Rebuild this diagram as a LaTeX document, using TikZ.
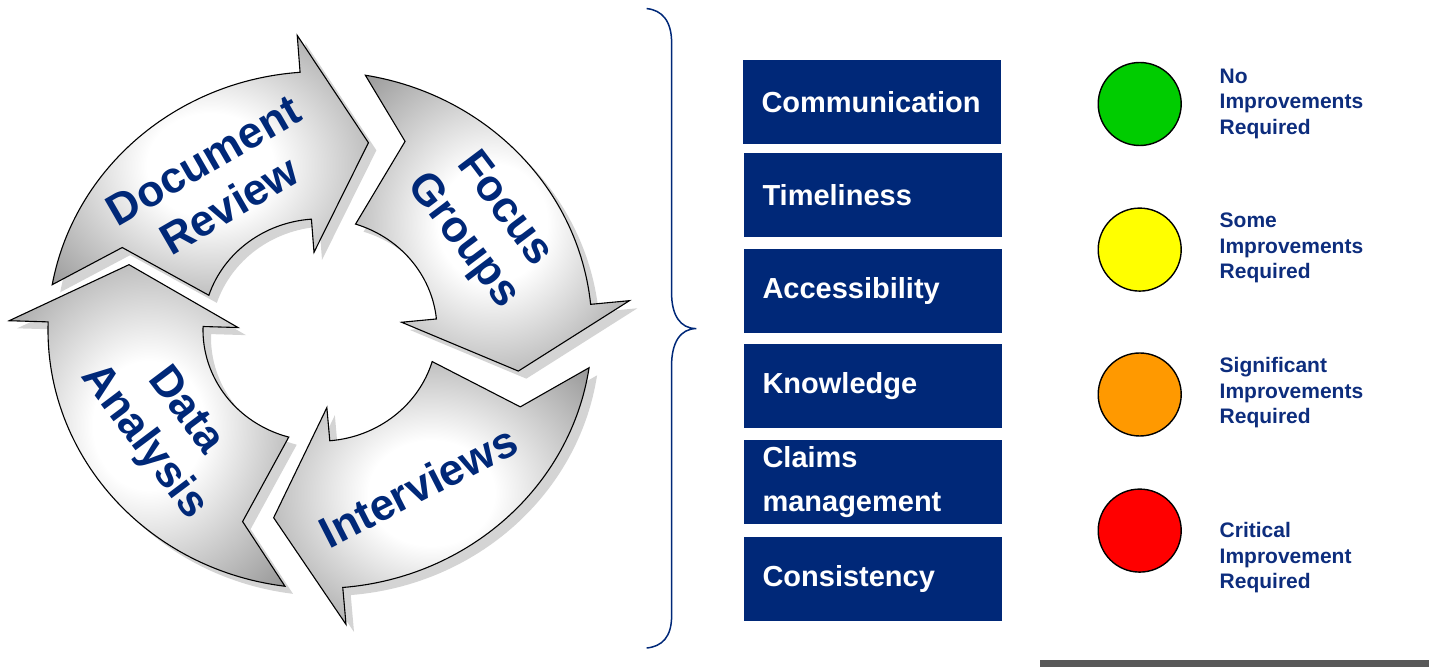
\documentclass[tikz,border=0pt]{standalone}
\usepackage{fontspec}
\setmainfont{Liberation Sans}
\definecolor{reviewnavy}{RGB}{0,40,120}
\definecolor{legendnavy}{RGB}{13,45,125}
\definecolor{bargray}{RGB}{89,89,89}
\definecolor{okgreen}{RGB}{0,204,0}
\definecolor{someyellow}{RGB}{255,255,0}
\definecolor{sigorange}{RGB}{255,153,0}
\definecolor{critred}{RGB}{255,0,0}
\pgfdeclareradialshading{arrowshade}{\pgfpoint{0bp}{0bp}}{color(0bp)=(white); color(10bp)=(white); color(50bp)=(black!66)}
% one bent arrow of the cycle, #1 = angle of the head base, #2 = angle of the tail notch
\newcommand{\cyclepath}[2]{({#1}:155.5bp) -- ({#1-18}:101.5bp) -- ({#1}:41bp) -- ({#1}:58.5bp)
  arc[start angle={#1}, end angle={#2+5.5}, radius=58.5bp] -- ({#2}:108bp) -- ({#2+13.6}:136bp)
  arc[start angle={#2+13.6}, end angle={#1}, radius=136bp] -- cycle}
\tikzset{
  cyclearrow/.style={draw=black, line width=0.55bp, shading=arrowshade},
  cycleshadow/.style={fill=black!17},
  cyclelabel/.style={text=reviewnavy, align=center, inner sep=0pt, font=\fontsize{22bp}{26bp}\selectfont\bfseries},
  metricbox/.style={fill=reviewnavy, text=white, minimum width=129bp, minimum height=42bp, inner xsep=9.5bp, inner ysep=1bp, text width=110bp, align=left, font=\fontsize{14.5bp}{22bp}\selectfont\bfseries},
  lamp/.style={circle, draw=black, line width=0.7bp, minimum size=41.5bp, inner sep=0pt},
  lamplabel/.style={anchor=west, text=legendnavy, align=left, inner sep=0pt, font=\fontsize{10.5bp}{12.75bp}\selectfont\bfseries},
}
\begin{document}
\begin{tikzpicture}[>=latex,line join=miter,]
\useasboundingbox (0bp,0bp) rectangle (714.5bp,333.5bp);
%%
\begin{scope}[shift={(160bp,168.5bp)},yscale=0.95]
  \fill[cycleshadow,shift={(4bp,-4bp)}] \cyclepath{94.2}{156.3};
  \fill[cycleshadow,shift={(4bp,-4bp)}] \cyclepath{5.7}{66.8};
  \fill[cycleshadow,shift={(4bp,-4bp)}] \cyclepath{-85.2}{-22};
  \fill[cycleshadow,shift={(4bp,-4bp)}] \cyclepath{178.2}{249};
  \shade[cyclearrow] \cyclepath{94.2}{156.3};
  \shade[cyclearrow] \cyclepath{5.7}{66.8};
  \shade[cyclearrow] \cyclepath{-85.2}{-22};
  \shade[cyclearrow] \cyclepath{178.2}{249};
\end{scope}
\node (label_review) at (108.2bp,242bp) [cyclelabel,rotate=30] {Document\\Review};
\node (label_focus) at (241.6bp,220.75bp) [cyclelabel,rotate=-53] {Focus\\Groups};
\node (label_interviews) at (209bp,90.3bp) [cyclelabel,rotate=27] {Interviews};
\node (label_analysis) at (81.9bp,120bp) [cyclelabel,rotate=-53] {Data\\Analysis};
%
\draw [reviewnavy,line width=0.75bp] (323.3bp,329.2bp) .. controls (331bp,328.5bp) and (335.8bp,323bp) .. (335.8bp,312.2bp)
  -- (335.8bp,187bp) .. controls (335.8bp,176bp) and (340bp,169.2bp) .. (348.2bp,169.2bp)
  .. controls (340bp,169.2bp) and (335.8bp,162bp) .. (335.8bp,150.8bp)
  -- (335.8bp,25.5bp) .. controls (335.8bp,15bp) and (331bp,10.2bp) .. (323.3bp,9.5bp);
%
\node (node_0) at (435.75bp,282.5bp) [metricbox] {Communication};
  \node (node_1) at (436.25bp,235.8bp) [metricbox] {Timeliness};
  \node (node_2) at (436.25bp,188bp) [metricbox] {Accessibility};
  \node (node_3) at (436.25bp,140.25bp) [metricbox] {Knowledge};
  \node (node_4) at (436.25bp,92.5bp) [metricbox] {Claims\\management};
  \node (node_5) at (436.25bp,44bp) [metricbox] {Consistency};
%
\node (lamp_0) at (569.85bp,281.5bp) [lamp,fill=okgreen] {};
  \node (lamp_1) at (569.85bp,208.7bp) [lamp,fill=someyellow] {};
  \node (lamp_2) at (569.85bp,136.25bp) [lamp,fill=sigorange] {};
  \node (lamp_3) at (569.85bp,68.2bp) [lamp,fill=critred] {};
  \node (text_0) at (609.65bp,281.75bp) [lamplabel] {No\\Improvements\\Required};
  \node (text_1) at (609.65bp,209.35bp) [lamplabel] {Some\\Improvements\\Required};
  \node (text_2) at (609.65bp,137bp) [lamplabel] {Significant\\Improvements\\Required};
  \node (text_3) at (609.65bp,54.5bp) [lamplabel] {Critical\\Improvement\\Required};
%
\fill [bargray] (520bp,0bp) rectangle (714.5bp,3.5bp);
\end{tikzpicture}
\end{document}
